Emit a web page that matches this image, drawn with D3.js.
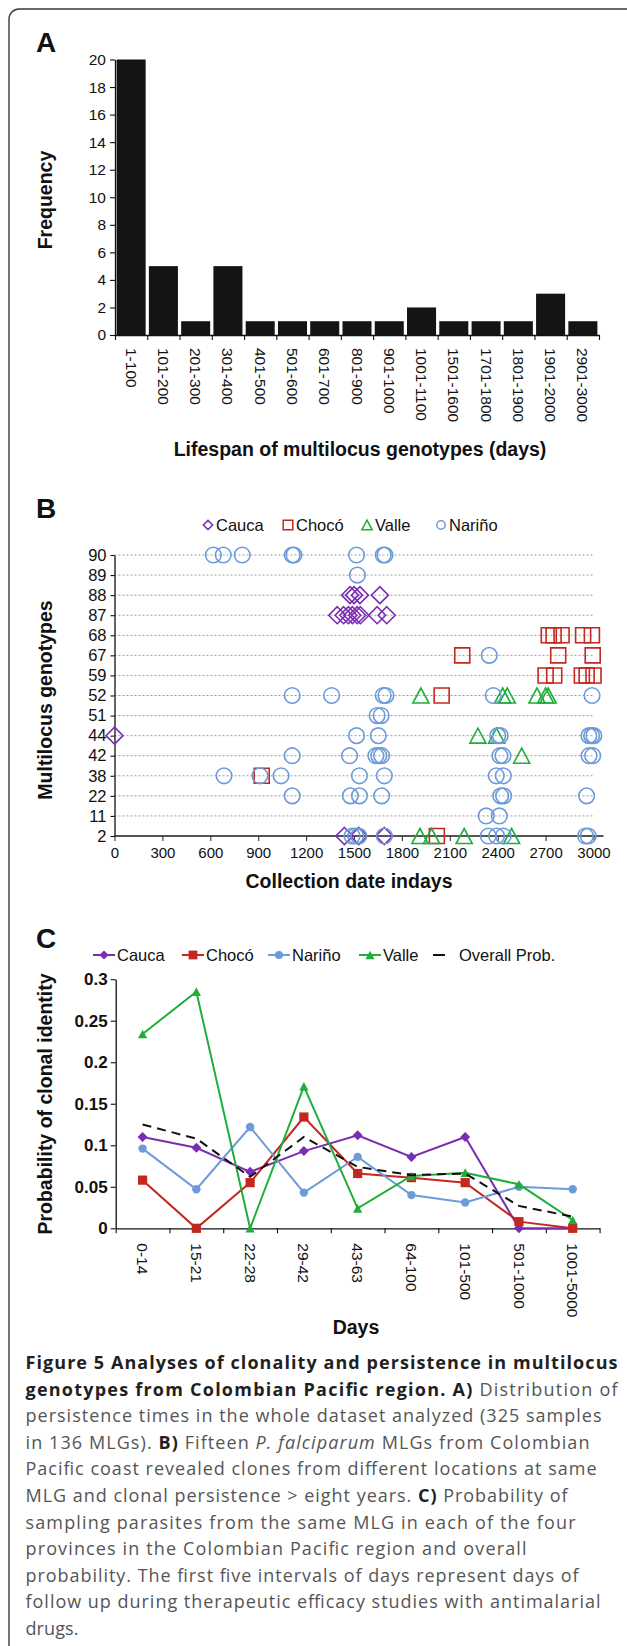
<!DOCTYPE html>
<html>
<head>
  <meta charset="utf-8">
  <title>Figure 5</title>
  <style type="text/css">
    body { margin: 0; background: #fff; }
    svg { display: block; }
    text { font-family: "Liberation Sans", Arial, sans-serif; fill: #111; }
    .caption text { font-family: "Open Sans", sans-serif; }
  </style>
</head>
<body>
  <svg width="627" height="1646"></svg>
  <script src="https://d3js.org/d3.v7.min.js"></script>
  <script>
  // ---- data ----
  // A) lifespan histogram
  const lifespanBins = ["1-100", "101-200", "201-300", "301-400", "401-500", "501-600", "601-700",
    "801-900", "901-1000", "1001-1100", "1501-1600", "1701-1800", "1801-1900", "1901-2000", "2901-3000"];
  const lifespanFreq = [20, 5, 1, 5, 1, 1, 1, 1, 1, 2, 1, 1, 1, 3, 1];
  const freqTicks = [0, 2, 4, 6, 8, 10, 12, 14, 16, 18, 20];

  // B) collection dates per MLG  [day, mlg]
  const mlgRows = ["2", "11", "22", "38", "42", "44", "51", "52", "59", "67", "68", "87", "88", "89", "90"];
  const dayTicks = [0, 300, 600, 900, 1200, 1500, 1800, 2100, 2400, 2700, 3000];
  const caucaDates = [
    [0, "44"],
    [1475, "88"], [1500, "88"], [1537, "88"], [1662, "88"],
    [1395, "87"], [1435, "87"], [1465, "87"], [1490, "87"], [1520, "87"], [1540, "87"], [1645, "87"], [1705, "87"],
    [1440, "2"], [1530, "2"], [1690, "2"]
  ];
  const chocoDates = [
    [922, "38"],
    [2720, "68"], [2750, "68"], [2800, "68"], [2935, "68"], [2990, "68"],
    [2178, "67"], [2779, "67"], [2995, "67"],
    [2700, "59"], [2754, "59"], [2927, "59"], [2957, "59"], [3000, "59"],
    [2049, "52"],
    [2019, "2"]
  ];
  const valleDates = [
    [1919, "52"], [2431, "52"], [2460, "52"], [2646, "52"], [2700, "52"], [2716, "52"],
    [2276, "44"], [2393, "44"],
    [2550, "42"],
    [1913, "2"], [1986, "2"], [2190, "2"], [2487, "2"]
  ];
  const narinoDates = [
    [619, "90"], [681, "90"], [800, "90"], [1113, "90"], [1124, "90"], [1516, "90"], [1683, "90"], [1694, "90"],
    [1521, "89"],
    [2347, "67"],
    [1113, "52"], [1360, "52"], [1683, "52"], [1700, "52"], [2372, "52"], [2991, "52"],
    [1645, "51"], [1670, "51"],
    [1516, "44"], [1652, "44"], [2400, "44"], [2416, "44"], [2971, "44"], [2988, "44"], [3002, "44"],
    [1113, "42"], [1472, "42"], [1637, "42"], [1655, "42"], [1673, "42"], [2414, "42"], [2433, "42"], [2972, "42"], [2995, "42"],
    [686, "38"], [911, "38"], [1043, "38"], [1534, "38"], [1690, "38"], [2391, "38"], [2435, "38"],
    [1113, "22"], [1477, "22"], [1534, "22"], [1673, "22"], [2419, "22"], [2437, "22"], [2957, "22"],
    [2328, "11"], [2410, "11"],
    [1488, "2"], [1510, "2"], [1530, "2"], [1690, "2"], [2341, "2"], [2393, "2"], [2435, "2"], [2950, "2"], [2967, "2"]
  ];

  // C) probability of clonal identity
  const dayIntervals = ["0-14", "15-21", "22-28", "29-42", "43-63", "64-100", "101-500", "501-1000", "1001-5000"];
  const probCauca  = [0.110, 0.097, 0.068, 0.093, 0.112, 0.086, 0.110, 0, 0];
  const probChoco  = [0.058, 0, 0.055, 0.134, 0.066, 0.061, 0.055, 0.008, 0];
  const probNarino = [0.096, 0.047, 0.122, 0.043, 0.086, 0.040, 0.031, 0.050, 0.047];
  const probValle  = [0.234, 0.285, 0, 0.171, 0.024, 0.063, 0.067, 0.053, 0.010];
  const probOverall = [0.125, 0.108, 0.062, 0.110, 0.074, 0.064, 0.066, 0.027, 0.014];
  const probTicks = [0, 0.05, 0.1, 0.15, 0.2, 0.25, 0.3];

  const colCauca = "#7a2db3", colChoco = "#c4271f", colNarino = "#6d9bd9", colValle = "#1fae3a";

  // custom marker shapes for d3.symbol (size = half width)
  const diamond = { draw(c, s) { c.moveTo(0, -s); c.lineTo(s, 0); c.lineTo(0, s); c.lineTo(-s, 0); c.closePath(); } };
  const square = { draw(c, s) { c.rect(-s, -s, 2 * s, 2 * s); } };
  const triangle = { draw(c, s) { c.moveTo(0, -s); c.lineTo(s * 1.07, s); c.lineTo(-s * 1.07, s); c.closePath(); } };
  const circle = { draw(c, s) { c.moveTo(s, 0); c.arc(0, 0, s, 0, 2 * Math.PI); } };

  const svg = d3.select("svg");

  // frame round the figure
  svg.append("rect")
    .attr("x", 9).attr("y", 9).attr("width", 700).attr("height", 1700).attr("rx", 10)
    .attr("fill", "none").attr("stroke", "#3a3a3a").attr("stroke-width", 1.4);

  function panelLetter(t, y) {
    svg.append("text").attr("x", 36).attr("y", y).attr("font-size", 28).attr("font-weight", "bold").text(t);
  }
  function styleAxis(g, size) {
    g.attr("font-size", size).attr("font-family", null);
    g.select(".domain").attr("stroke", "#111").attr("stroke-width", 1.3);
    g.selectAll(".tick line").attr("stroke", "#111").attr("stroke-width", 1.1);
    g.selectAll("text").attr("fill", "#111");
  }

  // ---- A ----
  panelLetter("A", 52);
  let xA = d3.scaleBand().domain(lifespanBins).range([115, 599]).paddingInner(0.1).paddingOuter(0.05);
  let yA = d3.scaleLinear().domain([0, 20]).range([335, 59.5]);
  let edgeA = d3.scaleLinear().domain([0, lifespanBins.length]).range([115, 599]);

  svg.append("g").selectAll("rect")
    .data(lifespanFreq)
    .join("rect")
    .attr("x", (d, i) => xA(lifespanBins[i]))
    .attr("y", d => yA(d))
    .attr("width", xA.bandwidth())
    .attr("height", d => yA(0) - yA(d))
    .attr("fill", "#141414");

  let gyA = svg.append("g").attr("transform", "translate(115,0)")
    .call(d3.axisLeft(yA).tickValues(freqTicks).tickSize(5).tickSizeOuter(0).tickPadding(4));
  styleAxis(gyA, 15.5);

  let gxA = svg.append("g").attr("transform", "translate(0,335)")
    .call(d3.axisBottom(edgeA).tickValues(d3.range(lifespanBins.length + 1)).tickSize(5).tickSizeOuter(0).tickFormat(""));
  styleAxis(gxA, 15);
  let glA = svg.append("g").attr("transform", "translate(0,335)")
    .call(d3.axisBottom(xA).tickSize(0));
  glA.select(".domain").remove();
  styleAxis(glA, 15.5);
  glA.selectAll("text")
    .attr("transform", "rotate(90)")
    .attr("x", 13).attr("y", 0).attr("dy", "0.35em")
    .attr("text-anchor", "start");

  svg.append("text").attr("x", 360).attr("y", 456).attr("text-anchor", "middle")
    .attr("font-size", 19.5).attr("font-weight", "bold").text("Lifespan of multilocus genotypes (days)");
  svg.append("text").attr("transform", "translate(52,200) rotate(-90)").attr("text-anchor", "middle")
    .attr("font-size", 19.5).attr("font-weight", "bold").text("Frequency");

  // ---- B ----
  panelLetter("B", 518);
  let xB = d3.scaleLinear().domain([0, 3000]).range([114.5, 593.5]);
  let yB = d3.scalePoint().domain(mlgRows).range([836, 555]);

  svg.append("g").selectAll("line")
    .data(mlgRows.slice(1))
    .join("line")
    .attr("x1", xB(0)).attr("x2", xB(3000))
    .attr("y1", d => yB(d)).attr("y2", d => yB(d))
    .attr("stroke", "#9b9b9b").attr("stroke-width", 1).attr("stroke-dasharray", "2,2");

  let gxB = svg.append("g").attr("transform", "translate(0," + yB("2") + ")")
    .call(d3.axisBottom(xB).tickValues(dayTicks).tickSize(5).tickSizeOuter(0).tickPadding(6).tickFormat(d3.format("d")));
  styleAxis(gxB, 15);
  gxB.select(".domain").attr("stroke", "#555").attr("stroke-width", 1.8)
    .attr("d", "M" + xB(0) + ",0H" + (xB(3000) + 10));
  gxB.selectAll(".tick line").attr("stroke", "#333");

  let gyB = svg.append("g").attr("transform", "translate(" + xB(0) + ",0)")
    .call(d3.axisLeft(yB).tickSize(4).tickSizeOuter(0).tickPadding(4));
  styleAxis(gyB, 16.5);

  const groupsB = [
    { data: caucaDates, shape: diamond, size: 8.5, color: colCauca },
    { data: chocoDates, shape: square, size: 7.5, color: colChoco },
    { data: valleDates, shape: triangle, size: 7.5, color: colValle },
    { data: narinoDates, shape: circle, size: 7.8, color: colNarino }
  ];
  groupsB.forEach(grp => {
    svg.append("g").selectAll("path")
      .data(grp.data)
      .join("path")
      .attr("transform", d => "translate(" + xB(d[0]) + "," + yB(d[1]) + ")")
      .attr("d", d3.symbol().type(grp.shape).size(grp.size))
      .attr("fill", "none")
      .attr("stroke", grp.color)
      .attr("stroke-width", 1.6);
  });

  // legend B
  const legendB = [
    { name: "Cauca", shape: diamond, size: 4.6, color: colCauca, x: 208 },
    { name: "Chocó", shape: square, size: 4.8, color: colChoco, x: 288 },
    { name: "Valle", shape: triangle, size: 4.8, color: colValle, x: 367 },
    { name: "Nariño", shape: circle, size: 4.2, color: colNarino, x: 441 }
  ];
  let lgB = svg.append("g").selectAll("g").data(legendB).join("g")
    .attr("transform", d => "translate(" + d.x + ",525)");
  lgB.append("path").attr("d", d => d3.symbol().type(d.shape).size(d.size)())
    .attr("fill", "none").attr("stroke", d => d.color).attr("stroke-width", 1.5);
  lgB.append("text").attr("x", 8).attr("dy", "0.35em").attr("font-size", 16.5).text(d => d.name);

  svg.append("text").attr("x", 349).attr("y", 888).attr("text-anchor", "middle")
    .attr("font-size", 19.5).attr("font-weight", "bold").text("Collection date indays");
  svg.append("text").attr("transform", "translate(52,700) rotate(-90)").attr("text-anchor", "middle")
    .attr("font-size", 19.5).attr("font-weight", "bold").text("Multilocus genotypes");

  // ---- C ----
  panelLetter("C", 948);
  let xC = d3.scaleBand().domain(dayIntervals).range([115.7, 599.6]);
  let yC = d3.scaleLinear().domain([0, 0.3]).range([1228.3, 979.2]);
  let edgeC = d3.scaleLinear().domain([0, dayIntervals.length]).range([115.7, 599.6]);
  let cx = (d, i) => xC(dayIntervals[i]) + xC.bandwidth() / 2;

  let gyC = svg.append("g").attr("transform", "translate(115.7,0)")
    .call(d3.axisLeft(yC).tickValues(probTicks).tickSize(5).tickSizeOuter(0).tickPadding(3)
      .tickFormat(d => d === 0 ? "0" : String(+d.toFixed(2))));
  styleAxis(gyC, 17);
  gyC.attr("font-weight", "bold");

  let gxC = svg.append("g").attr("transform", "translate(0,1228.3)")
    .call(d3.axisBottom(edgeC).tickValues(d3.range(dayIntervals.length + 1)).tickSize(5).tickSizeOuter(0).tickFormat(""));
  styleAxis(gxC, 15);
  let glC = svg.append("g").attr("transform", "translate(0,1228.3)")
    .call(d3.axisBottom(xC).tickSize(0));
  glC.select(".domain").remove();
  styleAxis(glC, 15.5);
  glC.selectAll("text")
    .attr("transform", "rotate(90)")
    .attr("x", 15).attr("y", 0).attr("dy", "0.35em")
    .attr("text-anchor", "start");

  const seriesC = [
    { name: "Cauca", values: probCauca, shape: diamond, size: 5, color: colCauca },
    { name: "Chocó", values: probChoco, shape: square, size: 4.6, color: colChoco },
    { name: "Nariño", values: probNarino, shape: circle, size: 4.2, color: colNarino },
    { name: "Valle", values: probValle, shape: triangle, size: 4.3, color: colValle }
  ];
  let line = d3.line().x(cx).y(d => yC(d));
  seriesC.forEach(s => {
    let g = svg.append("g");
    g.append("path").attr("d", line(s.values))
      .attr("fill", "none").attr("stroke", s.color).attr("stroke-width", 2);
    g.selectAll("path.m").data(s.values).join("path").attr("class", "m")
      .attr("transform", (d, i) => "translate(" + cx(d, i) + "," + yC(d) + ")")
      .attr("d", d3.symbol().type(s.shape).size(s.size))
      .attr("fill", s.color);
  });
  svg.append("path").attr("d", line(probOverall))
    .attr("fill", "none").attr("stroke", "#111").attr("stroke-width", 2).attr("stroke-dasharray", "9,6");

  // legend C
  const legendC = [
    { name: "Cauca", shape: diamond, size: 4.6, color: colCauca, x: 93 },
    { name: "Chocó", shape: square, size: 4.4, color: colChoco, x: 182 },
    { name: "Nariño", shape: circle, size: 4, color: colNarino, x: 268 },
    { name: "Valle", shape: triangle, size: 4.2, color: colValle, x: 359 }
  ];
  let lgC = svg.append("g").selectAll("g").data(legendC).join("g")
    .attr("transform", d => "translate(" + d.x + ",955)");
  lgC.append("line").attr("x1", 0).attr("x2", 22).attr("stroke", d => d.color).attr("stroke-width", 2);
  lgC.append("path").attr("transform", "translate(11,0)")
    .attr("d", d => d3.symbol().type(d.shape).size(d.size)()).attr("fill", d => d.color);
  lgC.append("text").attr("x", 24).attr("dy", "0.35em").attr("font-size", 16.5).text(d => d.name);
  svg.append("line").attr("x1", 433).attr("x2", 445).attr("y1", 955).attr("y2", 955)
    .attr("stroke", "#111").attr("stroke-width", 2);
  svg.append("text").attr("x", 459).attr("y", 955).attr("dy", "0.35em").attr("font-size", 16.5).text("Overall Prob.");

  svg.append("text").attr("x", 356).attr("y", 1334).attr("text-anchor", "middle")
    .attr("font-size", 19.5).attr("font-weight", "bold").text("Days");
  svg.append("text").attr("transform", "translate(52,1104) rotate(-90)").attr("text-anchor", "middle")
    .attr("font-size", 19.5).attr("font-weight", "bold").text("Probability of clonal identity");

  // ---- caption ----
  const captionLines = [
    [["Figure 5 Analyses of clonality and persistence in multilocus", "b"]],
    [["genotypes from Colombian Pacific region. A)", "b"], [" Distribution of", ""]],
    [["persistence times in the whole dataset analyzed (325 samples", ""]],
    [["in 136 MLGs). ", ""], ["B)", "b"], [" Fifteen ", ""], ["P. falciparum", "i"], [" MLGs from Colombian", ""]],
    [["Pacific coast revealed clones from different locations at same", ""]],
    [["MLG and clonal persistence > eight years. ", ""], ["C)", "b"], [" Probability of", ""]],
    [["sampling parasites from the same MLG in each of the four", ""]],
    [["provinces in the Colombian Pacific region and overall", ""]],
    [["probability. The first five intervals of days represent days of", ""]],
    [["follow up during therapeutic efficacy studies with antimalarial", ""]],
    [["drugs.", ""]]
  ];
  const captionWidths = [592, 592, 576, 564, 571, 542, 550, 501, 553, 575, 53];

  let cap = svg.append("g").attr("class", "caption");
  captionLines.forEach((segs, i) => {
    let t = cap.append("text")
      .attr("x", 25.5).attr("y", 1369 + i * 26.6)
      .attr("font-size", 18)
      .attr("textLength", captionWidths[i])
      .attr("lengthAdjust", "spacing")
      .attr("xml:space", "preserve");
    segs.forEach(s => {
      t.append("tspan")
        .attr("font-weight", s[1] === "b" ? "bold" : null)
        .attr("font-style", s[1] === "i" ? "italic" : null)
        .style("fill", s[1] === "b" ? "#231f20" : "#555")
        .text(s[0]);
    });
  });
  </script>
</body>
</html>
